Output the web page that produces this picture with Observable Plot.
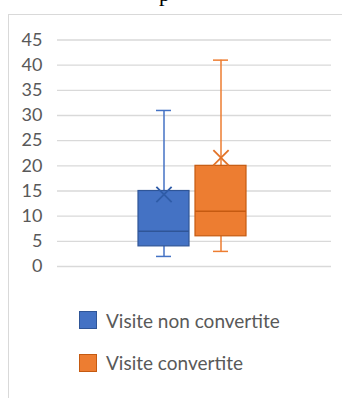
<!DOCTYPE html>
<html>
<head>
<meta charset="utf-8">
<script src="https://cdn.jsdelivr.net/npm/d3@7"></script>
<script src="https://cdn.jsdelivr.net/npm/@observablehq/plot@0.6"></script>
<style>
  html, body { margin: 0; padding: 0; background: #fff; overflow: hidden; }
  body { width: 342px; height: 398px; position: relative; font-family: Lato, "Open Sans", sans-serif; }
  #frame { position: absolute; left: 8px; top: 14px; width: 400px; height: 420px; border: 1px solid #d9d9d9; box-sizing: border-box; }
  #chart { position: absolute; left: 0; top: 0; }
  #cut { position: absolute; left: 159px; top: -17px; font-family: "Liberation Serif", serif; font-size: 22px; color: #000; line-height: 22px; }
  .legend { position: absolute; left: 79px; color: #595959; font-size: 19px; display: flex; align-items: center; height: 19px; }
  .sw { width: 18px; height: 18px; margin-right: 9px; box-sizing: border-box; border: 1px solid; flex: none; }
</style>
</head>
<body>
<div id="frame"></div>
<div id="cut">p</div>
<div id="chart"></div>
<div id="legend"></div>
<script>
const series = ["Visite non convertite", "Visite convertite"];
const mins = [2, 3];
const q1s = [4, 6];
const medians = [7, 11];
const q3s = [15, 20];
const maxs = [31, 41];
const means = [14.3, 21.6];
const yTicks = [0, 5, 10, 15, 20, 25, 30, 35, 40, 45];

const fills = ["#4472C4", "#ED7D31"];
const edges = ["#2F5597", "#C55A11"];
const meanStrokes = ["#2F5CA8", "#E2742A"];

const data = series.map((s, i) => ({
  series: s, min: mins[i], q1: q1s[i], median: medians[i], q3: q3s[i], max: maxs[i], mean: means[i]
}));

const marks = [
  Plot.ruleY(yTicks, {stroke: "#d9d9d9", strokeWidth: 1.3})
];
data.forEach((d, i) => {
  const one = [d];
  marks.push(
    Plot.ruleX(one, {x: "series", y1: "min", y2: "q1", stroke: fills[i], strokeWidth: 1.5}),
    Plot.ruleX(one, {x: "series", y1: "q3", y2: "max", stroke: fills[i], strokeWidth: 1.5}),
    Plot.tickY(one, {x: "series", y: "min", stroke: fills[i], strokeWidth: 1.5, insetLeft: 18, insetRight: 18}),
    Plot.tickY(one, {x: "series", y: "max", stroke: fills[i], strokeWidth: 1.5, insetLeft: 18, insetRight: 18}),
    Plot.barY(one, {x: "series", y1: "q1", y2: "q3", fill: fills[i], stroke: edges[i], strokeWidth: 1.2, inset: 0}),
    Plot.tickY(one, {x: "series", y: "median", stroke: edges[i], strokeWidth: 1.5}),
    Plot.dot(one, {x: "series", y: "mean", symbol: "times", r: 7, stroke: meanStrokes[i], strokeWidth: 1.8})
  );
});

const chart = Plot.plot({
  width: 342,
  height: 280,
  marginTop: 39.5,
  marginBottom: 14,
  marginLeft: 57,
  marginRight: 11,
  x: {domain: series, range: [137.7, 246], paddingInner: 0.1, paddingOuter: 0, axis: null},
  y: {domain: [0, 45], ticks: yTicks, tickSize: 0, tickPadding: 15, label: null},
  style: {fontFamily: "Lato, 'Open Sans', sans-serif", fontSize: "18px", color: "#595959", background: "transparent", overflow: "visible"},
  marks
});
document.getElementById("chart").appendChild(chart);

const legend = document.getElementById("legend");
const rowTops = [310.5, 353];
series.forEach((s, i) => {
  const row = document.createElement("div");
  row.className = "legend";
  row.style.top = rowTops[i] + "px";
  const sw = document.createElement("span");
  sw.className = "sw";
  sw.style.background = fills[i];
  sw.style.borderColor = edges[i];
  const label = document.createElement("span");
  label.textContent = s;
  row.appendChild(sw);
  row.appendChild(label);
  legend.appendChild(row);
});
</script>
</body>
</html>
